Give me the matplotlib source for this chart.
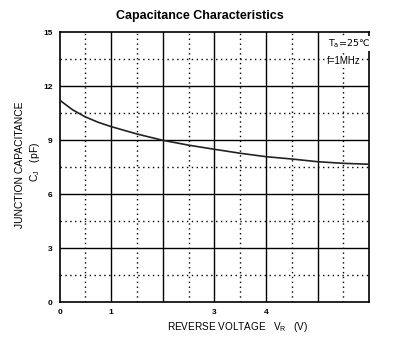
import numpy as np
import matplotlib
matplotlib.use('Agg')
import matplotlib.pyplot as plt

plt.rcParams['font.family'] = ['Liberation Sans', 'DejaVu Sans']

# Curve
vr = [0.0, 0.25, 0.5, 0.75, 1.0, 1.5, 2.0, 2.5, 3.0, 3.5, 4.0, 4.5, 5.0, 5.5, 6.0]
cj = [11.24, 10.7, 10.3, 10.0, 9.76, 9.35, 9.0, 8.73, 8.5, 8.28, 8.09, 7.96, 7.81, 7.72, 7.67]

x_ticks = [0, 1, 3, 4]
x_labels = ['0', '1', '3', '4']
y_ticks = [0, 3, 6, 9, 12, 15]

fig = plt.figure(figsize=(3.93, 3.41), dpi=100)
ax = fig.add_axes([0.1514, 0.1135, 0.7883, 0.7918])

# grid: solid majors, dotted minors
for xv in range(1, 6):
    ax.axvline(xv, color='black', lw=1.0, zorder=1)
for xv in np.arange(0.5, 6, 1.0):
    ax.axvline(xv, color='black', lw=1.0, ls=(0, (1, 2.5)), zorder=1)
for yv in range(3, 15, 3):
    ax.axhline(yv, color='black', lw=1.0, zorder=1)
for yv in np.arange(1.5, 15, 3.0):
    ax.axhline(yv, color='black', lw=1.0, ls=(0, (1, 2.5)), zorder=1)

ax.plot(vr, cj, color='#222222', lw=1.2, zorder=3)

ax.set_xlim(0, 6)
ax.set_ylim(0, 15)
ax.set_xticks(x_ticks)
ax.set_xticklabels(x_labels)
ax.set_yticks(y_ticks)
ax.tick_params(axis='y', length=0, labelsize=6, pad=5)
ax.tick_params(axis='x', length=0, labelsize=6, pad=5)
for lab in ax.get_xticklabels() + ax.get_yticklabels():
    lab.set_fontweight('bold')
for sp in ax.spines.values():
    sp.set_linewidth(1.2)

fig.text(0.509, 0.953, 'Capacitance Characteristics', ha='center', va='center',
         fontsize=9, fontweight='bold')
fig.text(0.051, 0.518, 'JUNCTION CAPACITANCE', rotation=90, ha='center', va='center',
         fontsize=7.4)
fig.text(0.089, 0.525, r'$\mathregular{C_J}$   (pF)', rotation=90, ha='center',
         va='center', fontsize=7.4)
fig.text(0.606, 0.041, r'REVERSE VOLTAGE   $\mathregular{V_R}$   (V)', ha='center',
         va='center', fontsize=7.2)

box = dict(facecolor='white', edgecolor='none', pad=1.0)
ax.text(0.866, 0.958, r'$\mathregular{T_a}$=25' + '\u2103', transform=ax.transAxes,
        ha='left', va='center', fontsize=6.8, family=['DejaVu Sans'], bbox=box, zorder=4)
ax.text(0.863, 0.892, 'f=1MHz', transform=ax.transAxes, ha='left', va='center',
        fontsize=7, bbox=box, zorder=4)

fig.savefig('out.png', dpi=100)
